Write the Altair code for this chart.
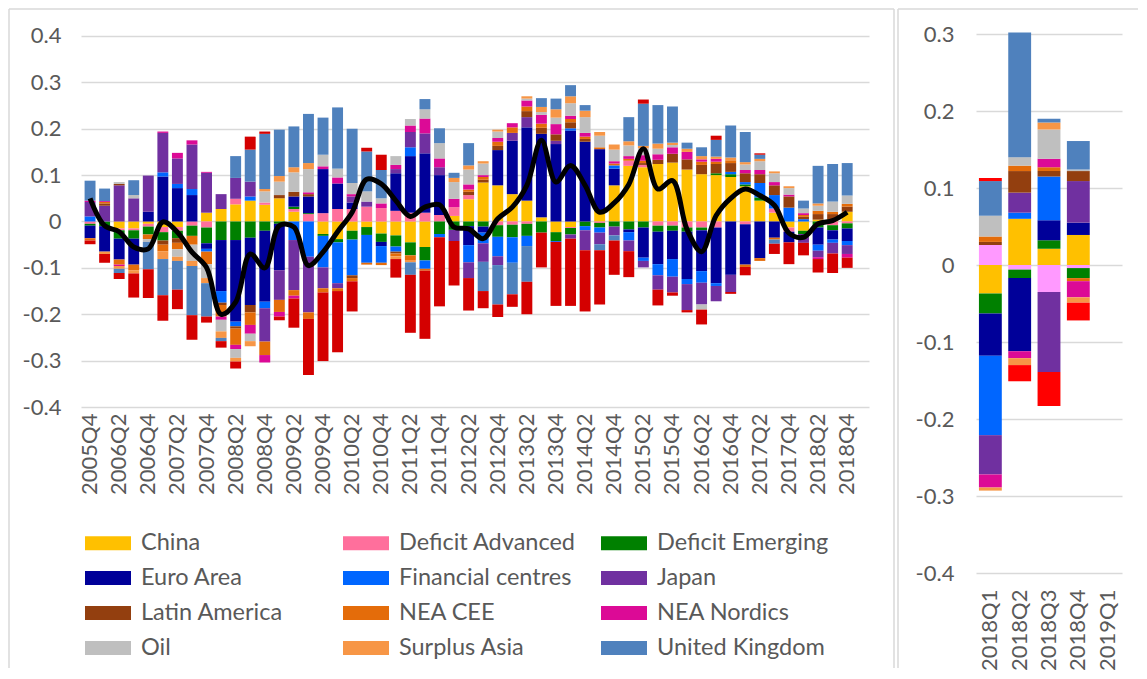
import altair as alt
import pandas as pd

quarters = [f"{y}Q{q}" for y in range(2005, 2019) for q in range(1, 5)][3:]
series_names = ["China", "Deficit Advanced", "Deficit Emerging", "Euro Area", "Financial centres",
                "Japan", "Latin America", "NEA CEE", "NEA Nordics", "Oil", "Surplus Asia",
                "United Kingdom", "United States"]

china = [0, 0, -0.015, -0.015, -0.005, -0.012, -0.012, 0, 0.019, 0.027, 0.037, 0.045, 0.036, 0.05,
         0.021, 0, -0.027, -0.038, -0.02, -0.012, -0.026, -0.03, -0.045, -0.055, 0, 0.012, 0.048,
         0.084, 0.078, 0.059, 0.045, 0.009, -0.023, -0.012, 0, 0.023, 0.078, 0.12, 0.117, 0.124,
         0.127, 0.112, 0.102, 0.1, 0.096, 0.076, 0.045, 0.019, -0.013, -0.02, 0.004, 0.004, 0.021]
deficit_adv = [-0.005, 0, -0.004, -0.004, -0.006, -0.011, -0.008, -0.009, -0.013, 0, 0.012, 0, 0.005,
               0, 0.006, 0.016, 0.018, 0.027, 0.027, 0.032, 0.029, 0.023, 0.019, 0.019, 0.014, 0.019,
               0.009, 0, -0.008, -0.007, -0.005, 0, 0, -0.002, 0, -0.003, 0, 0.011, 0.005, -0.009,
               -0.009, -0.013, -0.013, -0.013, 0, -0.006, 0, 0.009, -0.009, 0, 0, -0.008, -0.004]
deficit_em = [-0.004, -0.01, -0.018, -0.018, -0.017, -0.018, -0.016, -0.022, -0.034, -0.04, -0.04,
              -0.035, -0.02, -0.005, 0.005, 0.002, -0.004, -0.007, -0.019, -0.017, -0.018, -0.024,
              -0.028, -0.029, -0.027, -0.018, -0.01, -0.011, -0.025, -0.027, -0.026, -0.024, -0.019,
              -0.014, -0.01, -0.01, -0.011, -0.017, -0.013, -0.013, -0.011, -0.009, -0.006, 0.004,
              0.006, 0.004, 0.007, 0, 0, -0.007, -0.013, -0.011, -0.011]
euro = [-0.027, -0.055, -0.045, -0.056, 0.021, 0.097, 0.072, 0.057, -0.012, -0.11, -0.176, -0.145,
        -0.153, -0.1, 0.022, 0.036, 0.095, 0.055, 0.014, 0, -0.009, 0.081, 0.122, 0.128, 0.086, 0,
        -0.041, -0.013, 0.076, 0.115, 0.158, 0.18, 0.167, 0.196, 0.172, 0.133, 0.036, -0.006, -0.065,
        -0.07, -0.061, -0.102, -0.088, -0.12, -0.115, -0.087, -0.079, -0.035, -0.023, 0, -0.037,
        -0.02, -0.027]
fin_centres = [0.011, 0, 0, 0, 0, 0.009, 0.009, 0.013, -0.006, -0.025, -0.01, 0.009, -0.014, 0,
               -0.04, -0.076, -0.068, -0.088, -0.077, -0.06, -0.036, -0.011, 0.019, -0.018, -0.007,
               0, -0.037, -0.023, -0.042, -0.055, -0.022, 0, -0.002, 0.005, -0.009, -0.011, 0.007,
               -0.018, -0.007, -0.024, -0.038, -0.011, -0.025, -0.006, 0.005, 0.005, 0.031, 0.029,
               0.03, 0.005, -0.013, -0.007, -0.009]
japan = [0.031, 0.034, 0.078, 0.05, 0.078, 0.085, 0.055, 0.096, 0.086, 0.032, 0.045, 0.032, -0.072,
         -0.064, -0.108, -0.12, -0.045, -0.011, 0.013, 0.011, 0, 0.009, 0.033, 0.043, 0.017, -0.024,
         -0.034, -0.04, -0.019, 0.017, 0.022, 0, 0.007, -0.009, -0.043, -0.025, -0.019, -0.023,
         -0.014, -0.031, -0.034, -0.056, -0.047, -0.033, -0.037, 0, 0, 0, 0, -0.019, -0.014, -0.023,
         -0.019]
latin_america = [0, 0.005, 0.003, 0, 0, -0.009, -0.01, 0, 0, -0.005, -0.005, -0.016, 0, 0.007, 0.01,
                 0.005, 0, 0, -0.006, 0, 0, -0.004, 0, 0, 0, 0, 0.007, 0.006, 0.009, 0, 0.013, 0.013,
                 0.014, 0.013, 0.006, 0, 0, 0, 0.004, 0.009, 0.019, 0.022, 0.02, 0.02, 0.019, 0.019,
                 0.019, 0.021, 0.024, 0.005, 0.012, 0.012, 0.011]
nea_cee = [-0.005, 0.003, -0.011, -0.012, -0.01, -0.014, -0.014, -0.019, -0.027, -0.025, -0.035,
           -0.027, -0.029, -0.026, -0.012, -0.014, -0.009, -0.006, -0.007, -0.004, -0.005, -0.006,
           -0.01, -0.004, 0, 0, 0.005, 0.006, 0.009, 0.012, 0.01, 0.009, 0, 0.007, 0.005, 0.004,
           0.004, 0.004, 0.005, 0, 0, 0, 0.007, 0.005, 0.006, -0.005, -0.006, -0.004, 0, 0.004,
           0.007, 0.005, 0.006]
nea_nordics = [0.003, 0.002, -0.003, 0, 0, 0.003, 0.012, 0.009, 0.002, -0.007, -0.009, -0.019, -0.016,
               -0.01, -0.006, 0.004, 0.006, 0.013, 0.005, 0, 0.01, 0.009, 0.014, 0.032, 0.019, 0.018,
               0.011, 0.004, 0.008, 0.009, 0.013, 0.019, 0.022, 0.007, 0.008, 0, 0.005, 0.006, 0.012,
               0.012, 0.014, 0.016, 0.005, 0.006, 0, 0.007, 0.009, 0.007, 0.004, 0.004, -0.004, 0,
               -0.008]
oil = [0, 0, 0.004, 0.007, -0.006, 0, -0.016, -0.035, -0.03, -0.025, -0.019, -0.016, 0.024, 0.029,
       0.042, 0.05, 0.025, 0.019, 0.024, 0.022, 0.011, 0.019, 0.014, 0.02, 0.033, 0.036, 0.032, 0.025,
       0.014, 0, 0.004, 0.006, 0.014, 0.027, 0.034, 0.025, 0.025, 0.023, 0.015, 0.012, 0.005, 0,
       -0.011, 0, 0, 0.012, 0.019, 0.019, 0.014, 0.01, 0.011, 0.022, 0.018]
surplus_asia = [0, -0.005, -0.006, -0.007, 0, -0.017, -0.009, -0.011, -0.011, -0.014, -0.008, -0.011,
                0.005, 0.012, 0.011, 0.013, 0, 0, 0, 0, 0, -0.006, -0.005, 0, 0, 0.009, 0.009, 0.005,
                0.004, 0, 0.005, 0.011, 0.018, 0.015, 0.014, 0.008, 0.011, 0.009, 0.005, 0.011, 0.005,
                0.007, 0.007, 0.005, 0.006, 0.005, 0.005, 0.004, 0.004, 0, 0.005, 0, 0]
united_kingdom = [0.043, 0.027, -0.009, 0.032, -0.059, -0.078, -0.062, -0.106, -0.072, -0.007, 0.047,
                  0.069, 0.119, 0.1, 0.088, 0.106, 0.08, 0.132, 0.117, 0.086, 0.061, 0, -0.027, 0.022,
                  0.032, 0.011, 0.048, -0.063, -0.085, -0.068, -0.077, 0.019, 0.023, 0.024, 0.012,
                  -0.013, -0.011, 0.052, 0.091, 0.083, 0.078, 0.013, 0.019, 0.036, 0.069, 0.065, 0.009,
                  -0.009, 0, 0.017, 0.081, 0.081, 0.07]
united_states = [-0.008, -0.019, -0.013, -0.052, -0.062, -0.055, -0.042, -0.053, -0.013, -0.014,
                 -0.015, 0.028, 0.005, -0.008, -0.063, -0.121, -0.148, -0.132, -0.065, 0.008, 0.033,
                 -0.04, -0.125, -0.147, -0.149, -0.096, -0.07, -0.037, -0.027, -0.027, -0.07, -0.075,
                 -0.138, -0.145, -0.132, -0.117, -0.074, -0.056, 0.009, -0.034, -0.007, -0.005, -0.032,
                 0.009, -0.004, -0.018, 0.003, -0.022, -0.047, -0.027, -0.029, -0.042, -0.022]
total_line = [0.05, -0.009, -0.022, -0.055, -0.059, -0.001, -0.023, -0.066, -0.099, -0.2, -0.174,
              -0.07, -0.1, -0.009, -0.012, -0.095, -0.066, -0.022, 0.02, 0.091, 0.081, 0.045, 0.011,
              0.031, 0.036, -0.012, -0.016, -0.037, 0.006, 0.031, 0.078, 0.175, 0.085, 0.121, 0.078,
              0.02, 0.04, 0.08, 0.157, 0.07, 0.088, -0.017, -0.065, 0.013, 0.05, 0.07, 0.056, 0.035,
              -0.025, -0.034, -0.005, 0.002, 0.02]

right_quarters = ["2018Q1", "2018Q2", "2018Q3", "2018Q4", "2019Q1"]
r_china = [-0.037, 0.06, 0.021, 0.039]
r_deficit_adv = [0.026, -0.006, -0.035, -0.004]
r_deficit_em = [-0.026, -0.011, 0.011, -0.013]
r_euro = [-0.055, -0.095, 0.026, 0.016]
r_fin_centres = [-0.103, 0.008, 0.057, 0.0]
r_japan = [-0.051, 0.026, -0.104, 0.054]
r_latin_america = [0.004, 0.028, 0.007, 0.013]
r_nea_cee = [0.007, 0.007, 0.005, -0.004]
r_nea_nordics = [-0.017, -0.009, 0.011, -0.021]
r_oil = [0.027, 0.011, 0.038, 0.002]
r_surplus_asia = [-0.004, -0.009, 0.009, -0.007]
r_united_kingdom = [0.045, 0.162, 0.005, 0.037]
r_united_states = [0.004, -0.021, -0.044, -0.023]

left_colors = ["#FFC000", "#FF6F9C", "#008000", "#000099", "#0066FF", "#7030A0", "#933F0F",
               "#E46C0A", "#DC0A96", "#BFBFBF", "#F79646", "#4F81BD", "#D40000"]
right_colors = ["#FFC000", "#FF99FF", "#008000", "#000099", "#0066FF", "#7030A0", "#933F0F",
                "#E46C0A", "#DC0A96", "#BFBFBF", "#F79646", "#4F81BD", "#FF0000"]

left_series = [china, deficit_adv, deficit_em, euro, fin_centres, japan, latin_america, nea_cee,
               nea_nordics, oil, surplus_asia, united_kingdom, united_states]
right_series = [r_china, r_deficit_adv, r_deficit_em, r_euro, r_fin_centres, r_japan,
                r_latin_america, r_nea_cee, r_nea_nordics, r_oil, r_surplus_asia,
                r_united_kingdom, r_united_states]

rows = []
for k, (name, vals) in enumerate(zip(series_names, left_series)):
    for q, v in zip(quarters, vals):
        rows.append({"quarter": q, "series": name, "value": v, "idx": k})
left_df = pd.DataFrame(rows)

rows = []
for k, (name, vals) in enumerate(zip(series_names, right_series)):
    for q, v in zip(right_quarters, vals):
        rows.append({"quarter": q, "series": name, "value": v, "idx": k})
right_df = pd.DataFrame(rows)

line_df = pd.DataFrame({"quarter": quarters, "value": total_line})
one = pd.DataFrame({"k": [0]})

FONT = "Lato"
GREY = "#595959"
GRID = "#D9D9D9"
label_expr = ("datum.value < 0 ? '-' + format(-datum.value, '.1f') : "
              "(abs(datum.value) < 1e-9 ? '0' : format(datum.value, '.1f'))")

left_y = alt.Y("value:Q", stack="zero",
               scale=alt.Scale(domain=[-0.4, 0.4043], nice=False),
               axis=alt.Axis(values=[-0.4, -0.3, -0.2, -0.1, 0, 0.1, 0.2, 0.3, 0.4],
                             title=None, domain=False, ticks=False, grid=True,
                             gridColor=GRID, gridWidth=1.3, labelFontSize=22,
                             labelColor=GREY, labelPadding=20, labelExpr=label_expr))
left_x = alt.X("quarter:N", sort=quarters,
               scale=alt.Scale(domain=quarters, paddingInner=0.25, paddingOuter=0.685, align=0.18),
               axis=alt.Axis(values=quarters[::2], title=None, labelAngle=270, domain=False,
                             ticks=False, grid=False, labelFontSize=22, labelColor=GREY,
                             labelPadding=6))

bars = alt.Chart(left_df).mark_bar().encode(
    x=left_x,
    y=left_y,
    color=alt.Color("series:N",
                    scale=alt.Scale(domain=series_names, range=left_colors),
                    legend=alt.Legend(title=None, orient="none", legendX=4, legendY=486,
                                      columns=3, direction="horizontal", values=series_names[:12],
                                      symbolType="M-1,-0.3L1,-0.3L1,0.3L-1,0.3Z",
                                      symbolSize=2116, symbolStrokeWidth=0, symbolOpacity=1,
                                      labelFontSize=23.5, labelColor=GREY, labelOffset=10,
                                      rowPadding=0, columnPadding=25, gridAlign="all",
                                      padding=0, labelLimit=300)),
    order=alt.Order("idx:Q", sort="ascending"),
)

line = alt.Chart(line_df).mark_line(color="black", strokeWidth=5, interpolate="catmull-rom").encode(
    x=alt.X("quarter:N", sort=quarters),
    y=alt.Y("value:Q"),
)

rule_style = dict(color=GRID, strokeWidth=1.5)
l_left = alt.Chart(one).mark_rule(**rule_style).encode(x=alt.value(-72), y=alt.value(-25), y2=alt.value(634))
l_top = alt.Chart(one).mark_rule(**rule_style).encode(x=alt.value(-72), x2=alt.value(813), y=alt.value(-25))
l_right = alt.Chart(one).mark_rule(**rule_style).encode(x=alt.value(813), y=alt.value(-25), y2=alt.value(634))

left = alt.layer(bars, line, l_left, l_top, l_right).properties(width=788, height=373)

right_bars = alt.Chart(right_df).mark_bar().encode(
    x=alt.X("quarter:N", sort=right_quarters,
            scale=alt.Scale(domain=right_quarters, paddingInner=0.22, paddingOuter=0.1),
            axis=alt.Axis(title=None, labelAngle=270, domain=False, ticks=False, grid=False,
                          labelFontSize=22, labelColor=GREY, labelPadding=16)),
    y=alt.Y("value:Q", stack="zero",
            scale=alt.Scale(domain=[-0.4, 0.3], nice=False),
            axis=alt.Axis(values=[-0.4, -0.3, -0.2, -0.1, 0, 0.1, 0.2, 0.3],
                          title=None, domain=False, ticks=False, grid=True,
                          gridColor=GRID, gridWidth=1.3, labelFontSize=22,
                          labelColor=GREY, labelPadding=22, labelExpr=label_expr)),
    color=alt.Color("series:N", scale=alt.Scale(domain=series_names, range=right_colors), legend=None),
    order=alt.Order("idx:Q", sort="ascending"),
)
r_left = alt.Chart(one).mark_rule(**rule_style).encode(x=alt.value(-78), y=alt.value(-25), y2=alt.value(634))
r_top = alt.Chart(one).mark_rule(**rule_style).encode(x=alt.value(-78), x2=alt.value(162), y=alt.value(-25))

right = alt.layer(right_bars, r_left, r_top).properties(width=146, height=539)

chart = alt.hconcat(left, right, spacing=2).resolve_scale(
    color="independent", x="independent", y="independent"
).properties(
    padding={"left": 0, "top": 0, "right": 0, "bottom": 0}
).configure(
    font=FONT
).configure_view(stroke=None)

chart.save("out.html", embed_options={"renderer": "svg", "actions": False})
